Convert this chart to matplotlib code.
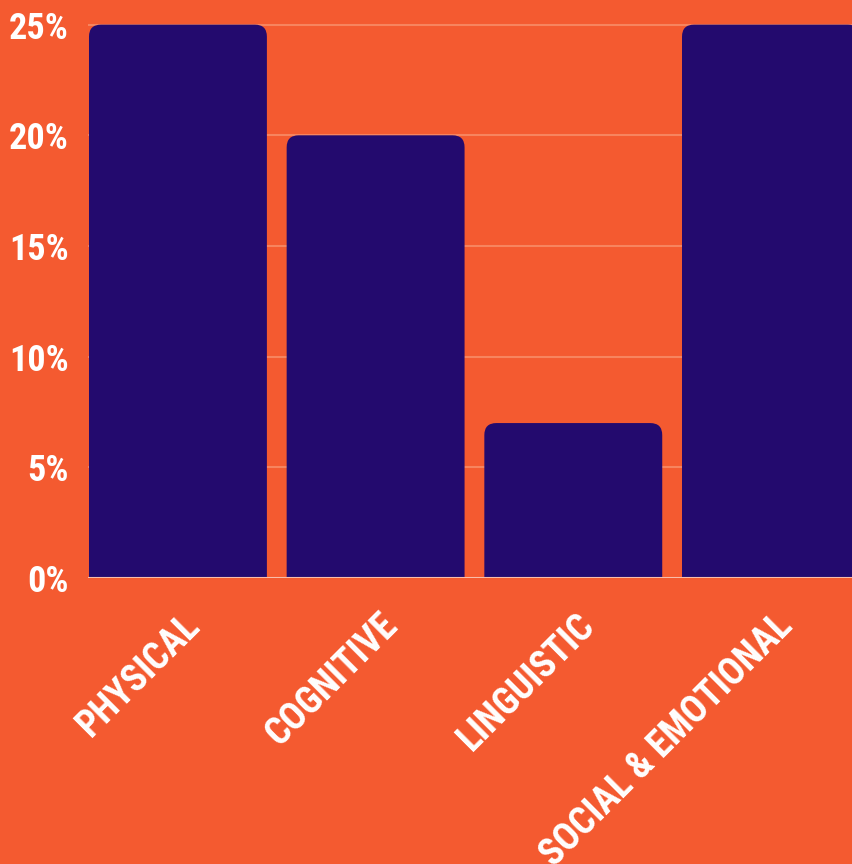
import numpy as np
import matplotlib.pyplot as plt
import matplotlib.transforms as mtransforms
from matplotlib import font_manager
from matplotlib.patches import FancyBboxPatch

categories = ['PHYSICAL', 'COGNITIVE', 'LINGUISTIC', 'SOCIAL & EMOTIONAL']
values = [25, 20, 7, 25]
yticks = [0, 5, 10, 15, 20, 25]

bg = '#F45A30'
bar_color = '#230A6E'

# prefer a condensed Roboto if one is installed
names = sorted({f.name for f in font_manager.fontManager.ttflist})
cond = [n for n in names if 'Condensed' in n and 'Roboto' in n]
family = cond[0] if cond else 'Roboto'
plt.rcParams['font.family'] = [family, 'DejaVu Sans']

W, H = 852, 864
fig = plt.figure(figsize=(W / 100, H / 100), dpi=100, facecolor=bg)
left, right, top, bottom = 88, 852, 18, 578
ax = fig.add_axes([left / W, 1 - bottom / H, (right - left) / W, (bottom - top) / H])
ax.set_facecolor(bg)

xlim = (-0.455, 3.41)
ylim = (0, 25.3)
ax.set_xlim(xlim)
ax.set_ylim(ylim)

for y in yticks[1:]:
    ax.axhline(y, color='#F7845E', lw=1.5, zorder=0)

# bars with rounded top corners
px_x = (right - left) / (xlim[1] - xlim[0])
px_y = (bottom - top) / (ylim[1] - ylim[0])
aspect = px_x / px_y
r = 12 / px_x
width = 0.9
for i, v in enumerate(values):
    p = FancyBboxPatch((i - width / 2, -2), width, v + 2,
                       boxstyle='round,pad=0,rounding_size=%f' % r,
                       mutation_aspect=aspect, fc=bar_color, ec='none', zorder=2)
    ax.add_patch(p)

ax.axhline(0, color='#F9BDAA', lw=1.5, zorder=3)

for s in ax.spines.values():
    s.set_visible(False)

ax.set_yticks(yticks)
ax.set_yticklabels(['%d%%' % t for t in yticks], color='white',
                   fontsize=26, fontweight='bold')
ax.set_xticks(range(len(categories)))
ax.set_xticklabels(categories, color='white', fontsize=27, fontweight='bold',
                   rotation=45, ha='right', va='center', rotation_mode='anchor')
ax.tick_params(length=0)
ax.tick_params(axis='y', pad=14)
ax.tick_params(axis='x', pad=0)

off = mtransforms.ScaledTranslation(16 / 100, -42 / 100, fig.dpi_scale_trans)
for lab in ax.get_xticklabels():
    lab.set_transform(lab.get_transform() + off)

fig.savefig('out.png', dpi=100, facecolor=bg)
